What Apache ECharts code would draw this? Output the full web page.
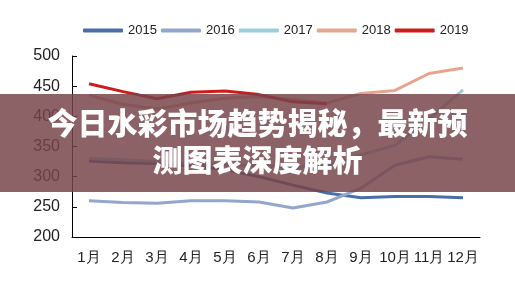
<!DOCTYPE html>
<html>
<head>
<meta charset="utf-8">
<script src="https://cdn.jsdelivr.net/npm/echarts@6/dist/echarts.min.js"></script>
<style>
html,body{margin:0;padding:0;background:#fff;}
#c{width:515px;height:286px;}
</style>
</head>
<body>
<div id="c"></div>
<script>
var months = ['1月','2月','3月','4月','5月','6月','7月','8月','9月','10月','11月','12月'];
var seriesNames = ['2015','2016','2017','2018','2019'];
var s2015 = [326, 323, 322, 318, 312, 300, 286, 273, 265, 267, 267, 265];
var s2016 = [260, 257, 256, 260, 260, 258, 248, 258, 281, 319, 333, 329];
var s2017 = [330, 328, 325, 322, 320, 318, 315, 318, 336, 352, 396, 444];
var s2018 = [435, 420, 412, 422, 430, 433, 428, 422, 438, 443, 471, 480];
var s2019 = [454, 441, 429, 440, 442, 436, 424, 421];
var yTicks = [200, 250, 300, 350, 400, 450, 500];
var titleLine1 = '今日水彩市场趋势揭秘，最新预';
var titleLine2 = '测图表深度解析';

var colors = ['#4a6ea8', '#93a6cc', '#9ccfdb', '#e6a58e', '#d01b1b'];
var allData = [s2015, s2016, s2017, s2018, s2019];

var chart = echarts.init(document.getElementById('c'));
chart.setOption({
  animation: false,
  color: colors,
  legend: {
    left: 78, top: 19,
    icon: 'roundRect',
    itemWidth: 40, itemHeight: 4, itemGap: 4,
    textStyle: {fontFamily: 'Liberation Sans', fontSize: 13, color: '#222'},
    data: seriesNames
  },
  grid: {left: 72, right: 35, top: 56, bottom: 49},
  xAxis: {
    type: 'category', data: months, boundaryGap: true,
    axisLine: {lineStyle: {color: '#000', width: 1}},
    axisTick: {inside: true, length: 5, lineStyle: {color: '#000'}},
    axisLabel: {fontFamily: 'Liberation Sans', fontSize: 15, color: '#222', margin: 13, interval: 0}
  },
  yAxis: {
    type: 'value', min: yTicks[0], max: yTicks[yTicks.length-1], interval: 50,
    axisLine: {show: true, lineStyle: {color: '#000', width: 1}},
    axisTick: {show: true, inside: true, length: 5, lineStyle: {color: '#000'}},
    splitLine: {show: false},
    axisLabel: {fontFamily: 'Liberation Sans', fontSize: 16, color: '#222', margin: 12}
  },
  series: seriesNames.map(function(n, i){
    return {
      name: n, type: 'line', data: allData[i], showSymbol: false, symbol: 'none',
      lineStyle: {width: 3, color: colors[i]}, z: 2 + i
    };
  }),
  graphic: [
    {type: 'rect', left: 0, top: 94, z: 100,
     shape: {width: 515, height: 98},
     style: {fill: 'rgba(118,68,74,0.84)'}},
    {type: 'text', left: 'center', top: 108, z: 101,
     style: {text: titleLine1, fill: '#fff', font: '900 30px "Noto Sans CJK SC"',
       shadowColor: 'rgba(0,0,0,0.5)', shadowBlur: 3}},
    {type: 'text', left: 'center', top: 145, z: 101,
     style: {text: titleLine2, fill: '#fff', font: '900 30px "Noto Sans CJK SC"',
       shadowColor: 'rgba(0,0,0,0.5)', shadowBlur: 3}}
  ]
});
</script>
</body>
</html>
